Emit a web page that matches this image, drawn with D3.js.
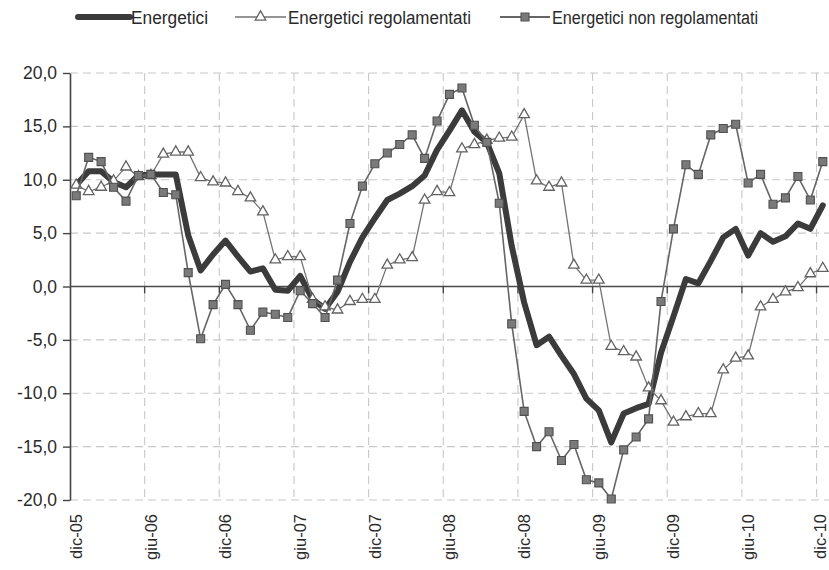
<!DOCTYPE html>
<html>
<head>
<meta charset="utf-8">
<script src="https://cdn.jsdelivr.net/npm/d3@7"></script>
<style>
  html, body { margin: 0; padding: 0; background: #fff; }
  svg { display: block; }
</style>
</head>
<body>
<svg id="chart" width="829" height="570"></svg>
<script>
// Monthly categories, December 2005 to December 2010
const categories = [
  "dic-05",
  "gen-06","feb-06","mar-06","apr-06","mag-06","giu-06","lug-06","ago-06","set-06","ott-06","nov-06","dic-06",
  "gen-07","feb-07","mar-07","apr-07","mag-07","giu-07","lug-07","ago-07","set-07","ott-07","nov-07","dic-07",
  "gen-08","feb-08","mar-08","apr-08","mag-08","giu-08","lug-08","ago-08","set-08","ott-08","nov-08","dic-08",
  "gen-09","feb-09","mar-09","apr-09","mag-09","giu-09","lug-09","ago-09","set-09","ott-09","nov-09","dic-09",
  "gen-10","feb-10","mar-10","apr-10","mag-10","giu-10","lug-10","ago-10","set-10","ott-10","nov-10","dic-10"
];

// Year-on-year changes (%)
const energetici = [
  9.5,
  10.8, 10.8, 9.8, 9.3, 10.4, 10.5, 10.5, 10.5, 4.8, 1.5, 3.0, 4.3,
  2.8, 1.4, 1.7, -0.3, -0.4, 1.0, -1.2, -2.1, -0.5, 2.3, 4.6, 6.4,
  8.1, 8.7, 9.4, 10.4, 12.8, 14.6, 16.5, 14.5, 13.5, 10.6, 3.8, -1.5,
  -5.5, -4.7, -6.5, -8.2, -10.5, -11.6, -14.6, -11.9, -11.4, -11.0, -6.2, -2.8,
  0.7, 0.3, 2.4, 4.6, 5.4, 2.9, 5.0, 4.2, 4.7, 5.9, 5.4, 7.6
];

const regolamentati = [
  9.5,
  8.9, 9.3, 9.9, 11.2, 10.3, 10.4, 12.4, 12.6, 12.6, 10.2, 9.8, 9.7,
  8.9, 8.3, 7.0, 2.5, 2.8, 2.8, -1.2, -1.9, -2.2, -1.4, -1.2, -1.2,
  2.0, 2.5, 2.7, 8.1, 8.9, 8.8, 12.9, 13.3, 13.7, 13.9, 14.0, 16.1,
  9.9, 9.3, 9.7, 2.0, 0.6, 0.6, -5.6, -6.1, -6.6, -9.5, -10.7, -12.7,
  -12.2, -11.9, -11.9, -7.8, -6.7, -6.5, -1.9, -1.2, -0.5, -0.1, 1.2, 1.7
];

const nonRegolamentati = [
  8.5,
  12.1, 11.7, 9.3, 8.0, 10.4, 10.5, 8.8, 8.6, 1.3, -4.9, -1.7, 0.2,
  -1.7, -4.1, -2.4, -2.6, -2.9, -0.4, -1.6, -2.9, 0.6, 5.9, 9.4, 11.5,
  12.5, 13.3, 14.2, 12.0, 15.5, 18.0, 18.6, 15.1, 13.5, 7.8, -3.5, -11.7,
  -15.0, -13.6, -16.3, -14.8, -18.1, -18.4, -19.9, -15.3, -14.1, -12.4, -1.4, 5.4,
  11.4, 10.5, 14.2, 14.8, 15.2, 9.7, 10.5, 7.7, 8.3, 10.3, 8.1, 11.7
];

// Category labels shown on the horizontal axis
const tickLabels = ["dic-05","giu-06","dic-06","giu-07","dic-07","giu-08",
                    "dic-08","giu-09","dic-09","giu-10","dic-10"];
// Value ticks on the vertical axis
const yTicks = [-20, -15, -10, -5, 0, 5, 10, 15, 20];

const seriesNames = ["Energetici", "Energetici regolamentati", "Energetici non regolamentati"];

const svg = d3.select("#chart");
const font = "'Liberation Sans', Arial, sans-serif";
const narrow = "'Liberation Sans Narrow', 'Arial Narrow', 'Liberation Sans', sans-serif";

const W = 829;
const plotLeft = 70, plotRight = 829, plotTop = 73, plotBottom = 500;

const x = d3.scaleBand().domain(categories).range([plotLeft, plotRight]).paddingInner(0).paddingOuter(0);
const cx = c => x(c) + x.bandwidth() / 2;
const y = d3.scaleLinear().domain([-20, 20]).range([plotBottom, plotTop]);

const itLocale = d3.formatLocale({ decimal: ",", thousands: ".", grouping: [3], currency: ["", " €"], minus: "-" });
const fmt = itLocale.format(".1f");

// Dashed gridlines
const grid = svg.append("g").attr("stroke", "#c8c8c8").attr("stroke-width", 1.1)
  .attr("stroke-dasharray", "8,5").attr("fill", "none");
grid.selectAll("line.h").data(yTicks.filter(v => v !== 0)).join("line")
  .attr("class", "h")
  .attr("x1", plotLeft).attr("x2", plotRight)
  .attr("y1", d => y(d)).attr("y2", d => y(d));
grid.selectAll("line.v").data(tickLabels.slice(1)).join("line")
  .attr("class", "v")
  .attr("x1", d => x(d)).attr("x2", d => x(d))
  .attr("y1", plotTop).attr("y2", plotBottom);

// Vertical axis
const yAxis = svg.append("g").attr("transform", `translate(${plotLeft},0)`)
  .call(d3.axisLeft(y).tickValues(yTicks).tickFormat(fmt).tickSize(7).tickSizeOuter(0).tickPadding(6));
yAxis.select(".domain").attr("stroke", "#444").attr("stroke-width", 1.6);
yAxis.selectAll(".tick line").attr("stroke", "#444").attr("stroke-width", 1.4);
yAxis.selectAll(".tick text").attr("font-family", font).attr("font-size", "17.5px").attr("fill", "#2a2a2a");

// Horizontal axis along zero
const xAxisY = y(0);
svg.append("line")
  .attr("x1", plotLeft).attr("x2", plotRight)
  .attr("y1", xAxisY).attr("y2", xAxisY)
  .attr("stroke", "#4a4a4a").attr("stroke-width", 1.6);
svg.append("g").selectAll("line").data(tickLabels.slice(1)).join("line")
  .attr("x1", d => x(d)).attr("x2", d => x(d))
  .attr("y1", xAxisY).attr("y2", xAxisY + 7)
  .attr("stroke", "#444").attr("stroke-width", 1.4);

// Rotated category labels below the plot (kept inside the right edge)
svg.append("g").selectAll("text").data(tickLabels).join("text")
  .attr("transform", d => `translate(${Math.min(cx(d), W - 9)},${plotBottom + 14}) rotate(-90)`)
  .attr("text-anchor", "end")
  .attr("dy", "0.35em")
  .attr("font-family", font).attr("font-size", "16.5px").attr("fill", "#2a2a2a")
  .text(d => d);

const line = d3.line().x((d, i) => cx(categories[i])).y(d => y(d));

// Energetici: thick dark line
svg.append("path").datum(energetici)
  .attr("d", line).attr("fill", "none")
  .attr("stroke", "#3b3b3b").attr("stroke-width", 6)
  .attr("stroke-linejoin", "round").attr("stroke-linecap", "round");

// Energetici regolamentati: thin line with open triangles
svg.append("path").datum(regolamentati)
  .attr("d", line).attr("fill", "none")
  .attr("stroke", "#737373").attr("stroke-width", 1.3);
const triSym = d3.symbol(d3.symbolTriangle, 48);
svg.append("g").selectAll("path").data(regolamentati).join("path")
  .attr("d", triSym)
  .attr("transform", (d, i) => `translate(${cx(categories[i])},${y(d)})`)
  .attr("fill", "#fff").attr("stroke", "#626262").attr("stroke-width", 1.3);

// Energetici non regolamentati: line with filled squares
svg.append("path").datum(nonRegolamentati)
  .attr("d", line).attr("fill", "none")
  .attr("stroke", "#666").attr("stroke-width", 1.6);
const sqSym = d3.symbol(d3.symbolSquare, 64);
svg.append("g").selectAll("path").data(nonRegolamentati).join("path")
  .attr("d", sqSym)
  .attr("transform", (d, i) => `translate(${cx(categories[i])},${y(d)})`)
  .attr("fill", "#7a7a7a").attr("stroke", "#505050").attr("stroke-width", 1.1);

// Legend
const legendY = 17;
const legend = svg.append("g");
const legendItems = [
  { name: seriesNames[0], x0: 78, x1: 130, tx: 131, tw: 77 },
  { name: seriesNames[1], x0: 235, x1: 286, tx: 288, tw: 183 },
  { name: seriesNames[2], x0: 500, x1: 550, tx: 552, tw: 206 }
];
legend.append("line")
  .attr("x1", legendItems[0].x0).attr("x2", legendItems[0].x1)
  .attr("y1", legendY).attr("y2", legendY)
  .attr("stroke", "#3b3b3b").attr("stroke-width", 6).attr("stroke-linecap", "round");
legend.append("line")
  .attr("x1", legendItems[1].x0).attr("x2", legendItems[1].x1)
  .attr("y1", legendY).attr("y2", legendY)
  .attr("stroke", "#737373").attr("stroke-width", 1.5);
legend.append("path").attr("d", triSym)
  .attr("transform", `translate(${(legendItems[1].x0 + legendItems[1].x1) / 2},${legendY})`)
  .attr("fill", "#fff").attr("stroke", "#626262").attr("stroke-width", 1.3);
legend.append("line")
  .attr("x1", legendItems[2].x0).attr("x2", legendItems[2].x1)
  .attr("y1", legendY).attr("y2", legendY)
  .attr("stroke", "#666").attr("stroke-width", 1.8);
legend.append("path").attr("d", sqSym)
  .attr("transform", `translate(${(legendItems[2].x0 + legendItems[2].x1) / 2},${legendY})`)
  .attr("fill", "#7a7a7a").attr("stroke", "#505050").attr("stroke-width", 1.1);
legend.selectAll("text").data(legendItems).join("text")
  .attr("x", d => d.tx).attr("y", legendY + 6.5)
  .attr("textLength", d => d.tw).attr("lengthAdjust", "spacingAndGlyphs")
  .attr("font-family", narrow).attr("font-size", "18px").attr("fill", "#2a2a2a")
  .text(d => d.name);
</script>
</body>
</html>
